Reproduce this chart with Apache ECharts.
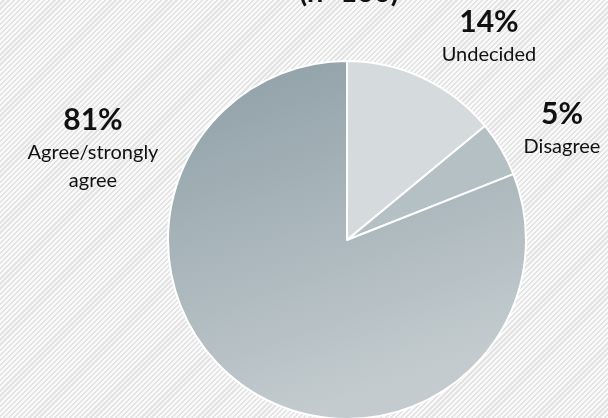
<!DOCTYPE html>
<html>
<head>
<meta charset="utf-8">
<script src="https://cdn.jsdelivr.net/npm/echarts@6/dist/echarts.min.js"></script>
<style>
  html, body { margin: 0; padding: 0; }
  #chart {
    width: 608px; height: 418px;
    background: repeating-linear-gradient(135deg, #f9f9f9 0px, #f9f9f9 2px, #e3e3e3 2px, #e3e3e3 3.6px);
  }
</style>
</head>
<body>
<div id="chart"></div>
<script>
// Survey responses (n=100)
const categories = ['Undecided', 'Disagree', 'Agree/strongly\nagree'];
const shares = [14, 5, 81];
const titleText = '(n=100)';

// label anchor points (px) for each slice's caption
const labelSpots = [[489, 36], [562, 128], [93, 148]];

const sliceColors = [
  '#d5dbdd',
  '#b5c0c4',
  new echarts.graphic.LinearGradient(0, 0, 0.35, 1, [
    { offset: 0, color: '#8d9ea6' },
    { offset: 1, color: '#c3cbce' }
  ])
];

const chart = echarts.init(document.getElementById('chart'), null, { renderer: 'canvas' });
const FONT = 'Lato, "Open Sans", sans-serif';

chart.setOption({
  backgroundColor: 'transparent',
  animation: false,
  title: {
    text: titleText,
    left: 344,
    textAlign: 'center',
    top: -27,
    textStyle: { fontFamily: FONT, fontSize: 29, fontWeight: 'bold', color: '#111' }
  },
  series: [{
    type: 'pie',
    center: [347, 240],
    radius: 179,
    startAngle: 90,
    clockwise: true,
    data: categories.map((c, i) => ({
      name: c,
      value: shares[i],
      itemStyle: { color: sliceColors[i] }
    })),
    itemStyle: { borderColor: '#ffffff', borderWidth: 2 },
    label: {
      show: true,
      position: 'outside',
      overflow: 'none',
      width: 200,
      formatter: p => '{v|' + p.value + '%}\n{n|' + p.name.replace('\n', '}\n{n|') + '}',
      rich: {
        v: { fontFamily: FONT, fontSize: 30, fontWeight: 'bold', color: '#111', lineHeight: 38, align: 'center' },
        n: { fontFamily: FONT, fontSize: 20, color: '#111', lineHeight: 28, align: 'center' }
      },
      align: 'center'
    },
    labelLine: { show: false },
    labelLayout: p => ({
      x: labelSpots[p.dataIndex][0],
      y: labelSpots[p.dataIndex][1],
      align: 'center',
      verticalAlign: 'middle'
    })
  }]
});
</script>
</body>
</html>
